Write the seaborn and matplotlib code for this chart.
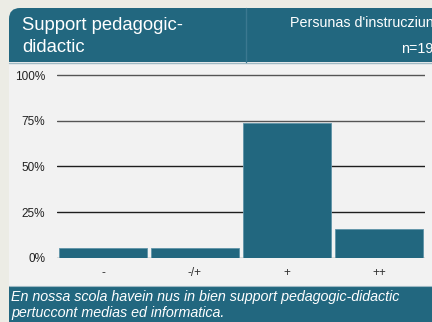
import matplotlib
matplotlib.use("Agg")
import matplotlib.pyplot as plt
from matplotlib.patches import FancyBboxPatch, Rectangle
import seaborn as sns
import pandas as pd

# Survey item data
title_lines = ["Support pedagogic-", "didactic"]
group_label = "Persunas d'instrucziun"
n_respondents = 19
categories = ["-", "-/+", "+", "++"]
shares = [5.3, 5.3, 73.7, 15.8]          # percent of respondents
y_ticks = [0, 25, 50, 75, 100]
y_tick_labels = ["0%", "25%", "50%", "75%", "100%"]
statement = ["En nossa scola havein nus in bien support pedagogic-didactic",
             "pertuccont medias ed informatica."]

TEAL = "#22677f"
PANEL = "#f2f2f2"
PAGE = "#ecece5"

sns.set_theme(style="white")
plt.rcParams["font.family"] = ["Liberation Sans", "DejaVu Sans"]

W, H = 432, 322
fig = plt.figure(figsize=(W / 100, H / 100), dpi=100)
fig.patch.set_facecolor(PAGE)

# Card background layer in pixel coordinates
bg = fig.add_axes([0, 0, 1, 1], zorder=0)
bg.set_xlim(0, W)
bg.set_ylim(H, 0)
bg.axis("off")

card = FancyBboxPatch((9, 8), 480, 340, boxstyle="round,pad=0,rounding_size=11",
                      facecolor=PANEL, edgecolor="none")
bg.add_patch(card)
header = FancyBboxPatch((9, 8), 480, 54, boxstyle="round,pad=0,rounding_size=11",
                        facecolor=TEAL, edgecolor="none")
bg.add_patch(header)
bg.add_patch(Rectangle((9, 40), 480, 22, facecolor=TEAL, edgecolor="none"))
bg.plot([9, W], [62.5, 62.5], color="#9fb9c4", lw=1)
bg.plot([245.5, 245.5], [8, 62], color="#3b7890", lw=1)

bg.text(22, 30, title_lines[0], color="white", fontsize=13.3, ha="left", va="baseline")
bg.text(22, 52, title_lines[1], color="white", fontsize=13.3, ha="left", va="baseline")
bg.text(290.5, 26.5, group_label, color="white", fontsize=10.3, ha="left", va="baseline")
bg.text(401, 52.5, f"n={n_respondents}", color="white", fontsize=10.3, ha="left", va="baseline")

# Footer with the survey statement
bg.add_patch(Rectangle((9, 285.5), 480, 50, facecolor=TEAL, edgecolor="none"))
bg.plot([9, W], [285.5, 285.5], color="#9fb9c4", lw=0.8)
bg.text(11, 301.5, statement[0], color="white", fontsize=10.3, style="italic",
        ha="left", va="baseline")
bg.text(11, 317, statement[1], color="white", fontsize=10.3, style="italic",
        ha="left", va="baseline")

# Bar chart
y0, y100 = 257.7, 75.0
top = 1.03
px_per_unit = (y0 - y100) / 100
ax_h = top * 100 * px_per_unit
ax = fig.add_axes([57 / W, (H - y0) / H, (425 - 57) / W, ax_h / H], zorder=1)
ax.patch.set_alpha(0)

df = pd.DataFrame({"category": categories, "share": shares})
for t, c in zip(y_ticks[1:], ["#1e1e1e", "#1e1e1e", "#555555", "#555555"]):
    ax.axhline(t, color=c, lw=1.0, zorder=0)
ax.axhline(0, color="#d4d4d4", lw=1.2, zorder=0)

sns.barplot(data=df, x="category", y="share", order=categories, color=TEAL,
            width=0.95, saturation=1, edgecolor="#5f93a8", linewidth=0.6,
            ax=ax, zorder=2)

ax.set_xlim(-0.5, 3.5)
ax.set_ylim(0, 100 * top)
ax.set_yticks(y_ticks)
ax.set_yticklabels(y_tick_labels)
ax.set_xlabel("")
ax.set_ylabel("")
ax.tick_params(axis="y", length=0, pad=8.5, labelsize=8.5, labelcolor="#222222")
ax.tick_params(axis="x", length=0, pad=7, labelsize=8.5, labelcolor="#333333")
for s in ax.spines.values():
    s.set_visible(False)

fig.savefig("out.png", dpi=100, facecolor=fig.get_facecolor())
